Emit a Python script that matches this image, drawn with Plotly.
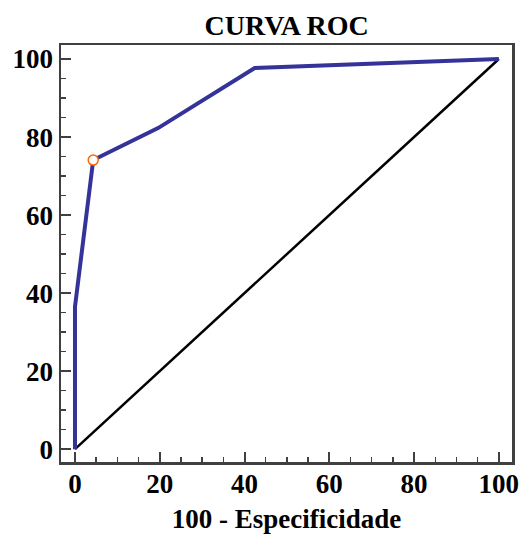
import plotly.graph_objects as go

# ROC curve data (x = 100 - specificity, y = sensitivity)
roc_x = [0, 0, 4.3, 19.6, 42.4, 100]
roc_y = [0, 36.5, 74.1, 82.3, 97.7, 100]
diag_x = [0, 100]
diag_y = [0, 100]
opt_x = [4.3]
opt_y = [74.1]
tick_vals = [0, 20, 40, 60, 80, 100]

fig = go.Figure()
fig.add_trace(go.Scatter(x=diag_x, y=diag_y, mode="lines",
                         line=dict(color="black", width=2.5), showlegend=False))
fig.add_trace(go.Scatter(x=roc_x, y=roc_y, mode="lines",
                         line=dict(color="#333399", width=4), showlegend=False))
fig.add_trace(go.Scatter(x=opt_x, y=opt_y, mode="markers",
                         marker=dict(symbol="circle", size=10, color="white",
                                     line=dict(color="#FF6600", width=1.5)),
                         showlegend=False))

font_fam = "Liberation Serif, Times New Roman, serif"
axis_common = dict(
    showgrid=False, zeroline=False, showline=True, linecolor="#404040", linewidth=2.5,
    mirror=True, ticks="inside", ticklen=10, tickwidth=2, tickcolor="#404040",
    tickvals=tick_vals, automargin=False,
    tickfont=dict(family=font_fam, size=27, color="black", weight="bold"),
    minor=dict(dtick=5, ticks="inside", ticklen=5, tickwidth=1.5, tickcolor="#404040"),
)

fig.update_layout(
    width=523, height=534,
    paper_bgcolor="white", plot_bgcolor="white",
    margin=dict(l=61, r=11, t=45, b=72),
    title=dict(text="<b>CURVA ROC</b>", x=0.548, xanchor="center", y=0.953, yanchor="middle",
               font=dict(family=font_fam, size=28, color="black")),
    xaxis=dict(range=[-3.3, 103.1], ticklabelstandoff=-4,
               title=dict(text="<b>100 - Especificidade</b>", standoff=12,
                          font=dict(family=font_fam, size=27, color="black")),
               **axis_common),
    yaxis=dict(range=[-3.3, 103.6], **axis_common),
    hovermode=False,
)

fig.write_html("out.html", config={"displayModeBar": False, "staticPlot": True},
               post_script="document.body.style.margin='0';document.body.style.overflow='hidden';")
